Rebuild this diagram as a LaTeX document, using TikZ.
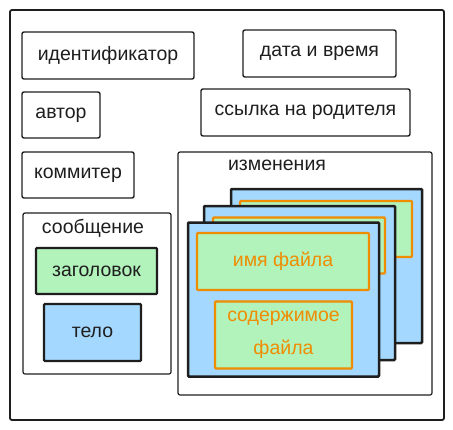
\documentclass[tikz,border=0pt]{standalone}
\usepackage{fontspec}
\setmainfont{Liberation Sans}
\definecolor{ink}{HTML}{1E1E1E}
\definecolor{fgreen}{HTML}{B2F2BB}
\definecolor{fblue}{HTML}{A5D8FF}
\definecolor{forange}{HTML}{F08C00}
\begin{document}
\begin{tikzpicture}[x=1pt,y=-1pt,
  txt/.style={font=\fontsize{19.5}{23}\selectfont, text=ink},
  box/.style={draw=ink, line width=1.4pt, rounded corners=2pt, inner sep=0pt, txt},
  group/.style={draw=ink, line width=1.2pt, rounded corners=2pt, inner sep=0pt},
  fillbox/.style={draw=ink, line width=2.2pt, rounded corners=1pt, inner sep=0pt, txt},
  card/.style={draw=ink, fill=fblue, line width=2.5pt, rounded corners=1pt, inner sep=0pt,
    minimum width=191pt, minimum height=154pt},
  field/.style={draw=forange, fill=fgreen, line width=2.4pt, rounded corners=1pt, inner sep=0pt,
    font=\fontsize{19.5}{33}\selectfont, text=forange, align=center}]
\useasboundingbox (0,0) rectangle (453,429);
\node[group, line width=1.8pt, minimum width=434pt, minimum height=410pt] (outer) at (227,215) {};
\node[box, minimum width=172pt, minimum height=47pt] (id) at (108,55.5) {идентификатор};
\node[box, minimum width=153pt, minimum height=47pt] (date) at (319.5,53.5) {дата и время};
\node[box, minimum width=78pt, minimum height=46pt] (author) at (61,115) {автор};
\node[box, minimum width=209pt, minimum height=47pt] (parent) at (305.5,112.5) {ссылка на родителя};
\node[box, minimum width=112pt, minimum height=46pt] (committer) at (78,175) {коммитер};
% message group
\node[group, minimum width=148pt, minimum height=161pt] (msg) at (97,293.5) {};
\node[txt] (msglabel) at (93,228) {сообщение};
\node[fillbox, fill=fgreen, minimum width=121pt, minimum height=46pt] (title) at (96.5,271) {заголовок};
\node[fillbox, fill=fblue, minimum width=97pt, minimum height=57pt] (body) at (92.5,332.5) {тело};
% changes group
\node[group, minimum width=254pt, minimum height=243pt] (changes) at (305,273.5) {};
\node[txt] (changeslabel) at (277,165) {изменения};
% back card
\node[card] (card3) at (326.5,266) {};
\node[field, minimum width=172pt, minimum height=56pt] (name3) at (326,229) {};
% middle card
\node[card] (card2) at (299.5,283) {};
\node[field, minimum width=172pt, minimum height=56pt] (name2) at (299,245.5) {};
% front card
\node[card] (card1) at (283.5,299.5) {};
\node[field, minimum width=172pt, minimum height=57pt] (name1) at (283,261.5) {имя файла};
\node[field, minimum width=137pt, minimum height=67pt] (content1) at (283.5,335) {содержимое\\файла};
\end{tikzpicture}
\end{document}
